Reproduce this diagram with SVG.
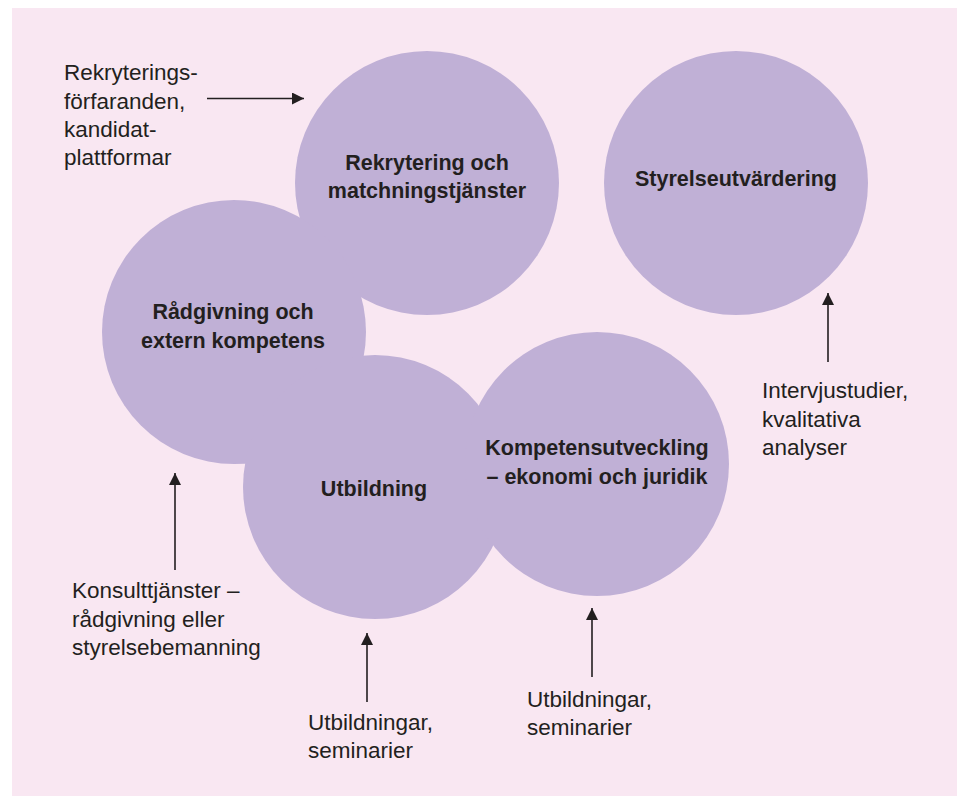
<svg xmlns="http://www.w3.org/2000/svg" width="957" height="796" viewBox="0 0 957 796">
<defs>
<style>
.bg{fill:#f9e7f2}
.node circle{fill:#c0b0d6}
.nl{font-family:"Liberation Sans",Arial,sans-serif;font-size:21.5px;font-weight:bold;fill:#231f20;text-anchor:middle}
.al{font-family:"Liberation Sans",Arial,sans-serif;font-size:22.5px;fill:#231f20}
.conn line{stroke:#231f20;stroke-width:1.6;fill:none;marker-end:url(#ah)}
</style>
<marker id="ah" markerUnits="userSpaceOnUse" markerWidth="12" markerHeight="12" refX="12" refY="6" orient="auto">
<path d="M0,0 L12,6 L0,12 z" fill="#231f20"/>
</marker>
</defs>
<rect class="bg" x="12" y="8" width="945" height="788"/>
<g id="node-rekrytering" class="node">
<circle cx="427" cy="183" r="132"/>
<text class="nl" x="427" y="170">Rekrytering och</text>
<text class="nl" x="427" y="198">matchningstjänster</text>
</g>
<g id="node-styrelseutvardering" class="node">
<circle cx="736" cy="183" r="132"/>
<text class="nl" x="736" y="186">Styrelseutvärdering</text>
</g>
<g id="node-radgivning" class="node">
<circle cx="234" cy="332" r="132"/>
<text class="nl" x="233" y="319">Rådgivning och</text>
<text class="nl" x="233" y="348">extern kompetens</text>
</g>
<g id="node-utbildning" class="node">
<circle cx="375" cy="487" r="132"/>
<text class="nl" x="374" y="496">Utbildning</text>
</g>
<g id="node-kompetensutveckling" class="node">
<circle cx="597" cy="464" r="132"/>
<text class="nl" x="597" y="455">Kompetensutveckling</text>
<text class="nl" x="597" y="484">– ekonomi och juridik</text>
</g>
<g id="connectors" class="conn">
<line x1="207" y1="98.5" x2="304" y2="98.5"/>
<line x1="828" y1="362" x2="828" y2="293"/>
<line x1="175" y1="570" x2="175" y2="473"/>
<line x1="367" y1="702" x2="367" y2="633"/>
<line x1="592" y1="677" x2="592" y2="608"/>
</g>
<g id="labels">
<text class="al" x="64" y="80">Rekryterings-</text>
<text class="al" x="64" y="108.5">förfaranden,</text>
<text class="al" x="64" y="137">kandidat-</text>
<text class="al" x="64" y="165">plattformar</text>
<text class="al" x="762" y="398">Intervjustudier,</text>
<text class="al" x="762" y="427">kvalitativa</text>
<text class="al" x="762" y="455">analyser</text>
<text class="al" x="72" y="598">Konsulttjänster –</text>
<text class="al" x="72" y="627">rådgivning eller</text>
<text class="al" x="72" y="655">styrelsebemanning</text>
<text class="al" x="308" y="730">Utbildningar,</text>
<text class="al" x="308" y="758">seminarier</text>
<text class="al" x="527" y="707">Utbildningar,</text>
<text class="al" x="527" y="735">seminarier</text>
</g>
</svg>
